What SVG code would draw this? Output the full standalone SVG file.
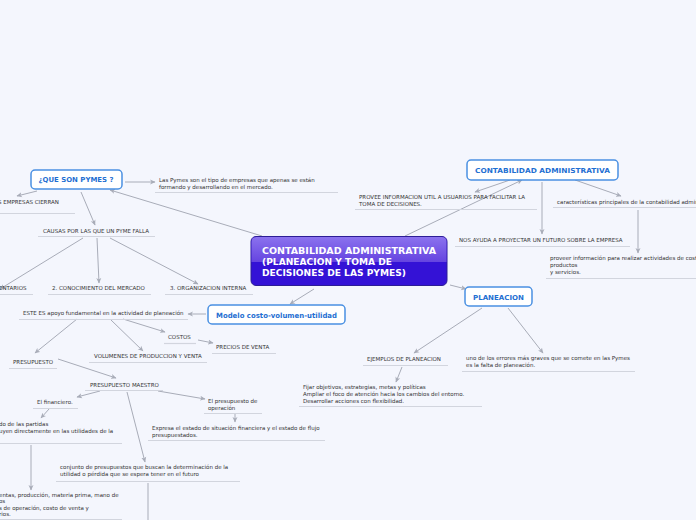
<svg xmlns="http://www.w3.org/2000/svg" width="696" height="520" viewBox="0 0 696 520">
<defs>
<linearGradient id="gTop" x1="0" y1="0" x2="0" y2="1">
<stop offset="0" stop-color="#8b72ee"/>
<stop offset="1" stop-color="#6544e0"/>
</linearGradient>
<marker id="ah" markerWidth="6" markerHeight="6" refX="5" refY="3" orient="auto" markerUnits="userSpaceOnUse">
<path d="M0,0.5 L5.5,3 L0,5.5 L1.5,3 Z" fill="#a8acb8"/>
</marker>
<style>
.t{font-family:"DejaVu Sans","Verdana",sans-serif;font-size:5.5px;fill:#333}
.ul{stroke:#d2d5de;stroke-width:1.2}
.c{stroke:#a8acb8;stroke-width:1;fill:none;marker-end:url(#ah)}
.cn{stroke:#a8acb8;stroke-width:1;fill:none}
.bx{fill:#fff;stroke:#4a90e2;stroke-width:1.5}
.bt{font-family:"DejaVu Sans","Verdana",sans-serif;font-weight:bold;font-size:6.8px;fill:#1f6fd2;text-anchor:middle}
.ct{font-family:"DejaVu Sans","Verdana",sans-serif;font-weight:bold;font-size:9.2px;fill:#fff}
</style>
</defs>
<rect width="696" height="520" fill="#f4f6fd"/>

<g id="connectors">
<path class="c" d="M262,236 L110,190"/>
<path class="c" d="M125,182 L155,182"/>
<path class="c" d="M37,191 L17,196"/>
<path class="c" d="M81,192 L95,225"/>
<path class="c" d="M83,238 L0,289"/>
<path class="c" d="M97,238 L99,283"/>
<path class="c" d="M110,238 L198,284"/>
<path class="c" d="M405,236 L522,180"/>
<path class="c" d="M510,180 L475,192"/>
<path class="c" d="M542,182 L542,234"/>
<path class="c" d="M575,180 L621,196"/>
<path class="c" d="M638,210 L638,253"/>
<path class="c" d="M450,285 L466,289"/>
<path class="c" d="M482,308 L414,353"/>
<path class="c" d="M508,308 L543,353"/>
<path class="c" d="M402,367 L396,382"/>
<path class="c" d="M314,289 L290,304"/>
<path class="c" d="M206,314 L188,314"/>
<path class="c" d="M77,319 L35,353"/>
<path class="c" d="M111,320 L143,351"/>
<path class="c" d="M123,319 L165,332"/>
<path class="c" d="M198,340 L213,343"/>
<path class="c" d="M58,359 L116,378"/>
<path class="c" d="M100,391 L77,397"/>
<path class="c" d="M158,391 L205,399"/>
<path class="c" d="M235,414 L235,422"/>
<path class="c" d="M127,392 L145,462"/>
<path class="c" d="M49,409 L41,418"/>
<path class="c" d="M31,445 L31,490"/>
<path class="cn" d="M148,483 L148,520"/>
</g>

<g id="central">
<rect x="251" y="236.5" width="196" height="49" rx="5" fill="#3412d6" stroke="#2d1d96" stroke-width="1"/>
<path d="M251.5,262 L251.5,242 Q251.5,237 256.5,237 L441.5,237 Q446.5,237 446.5,242 L446.5,262 Z" fill="url(#gTop)"/>
<text class="ct" x="262" y="254" textLength="174" lengthAdjust="spacingAndGlyphs">CONTABILIDAD ADMINISTRATIVA</text>
<text class="ct" x="262" y="265" textLength="130" lengthAdjust="spacingAndGlyphs">(PLANEACION Y TOMA DE</text>
<text class="ct" x="262" y="276" textLength="144" lengthAdjust="spacingAndGlyphs">DECISIONES DE LAS PYMES)</text>
</g>

<g id="que-son-pymes">
<rect class="bx" x="31" y="170" width="91" height="19" rx="4"/>
<text class="bt" x="76" y="182" textLength="75" lengthAdjust="spacingAndGlyphs">¿QUE SON PYMES ?</text>
</g>

<g id="pymes-def">
<text class="t" x="159" y="182">Las Pymes son el tipo de empresas que apenas se están</text>
<text class="t" x="159" y="189">formando y desarrollando en el mercado.</text>
<line class="ul" x1="155" y1="192.5" x2="338" y2="192.5"/>
</g>

<g id="empresas-cierran">
<text class="t" x="-2" y="204">S EMPRESAS CIERRAN</text>
<line class="ul" x1="0" y1="213.5" x2="75" y2="213.5"/>
</g>

<g id="causas">
<text class="t" x="43" y="233">CAUSAS POR LAS QUE UN PYME FALLA</text>
<line class="ul" x1="38" y1="236.5" x2="155" y2="236.5"/>
</g>

<g id="causa1">
<text class="t" x="-1" y="290">ENTARIOS</text>
<line class="ul" x1="0" y1="294.5" x2="33" y2="294.5"/>
</g>

<g id="causa2">
<text class="t" x="52" y="290">2. CONOCIMIENTO DEL MERCADO</text>
<line class="ul" x1="48" y1="294.5" x2="151" y2="294.5"/>
</g>

<g id="causa3">
<text class="t" x="170" y="290">3. ORGANIZACION INTERNA</text>
<line class="ul" x1="165" y1="294.5" x2="253" y2="294.5"/>
</g>

<g id="contabilidad-administrativa">
<rect class="bx" x="467" y="160" width="151" height="20" rx="4"/>
<text class="bt" x="542.5" y="172.5" textLength="135" lengthAdjust="spacingAndGlyphs">CONTABILIDAD ADMINISTRATIVA</text>
</g>

<g id="provee">
<text class="t" x="359" y="199">PROVEE INFORMACION UTIL A USUARIOS PARA FACILITAR LA</text>
<text class="t" x="359" y="206">TOMA DE DECISIONES.</text>
<line class="ul" x1="355" y1="209.5" x2="537" y2="209.5"/>
</g>

<g id="nos-ayuda">
<text class="t" x="459" y="242">NOS AYUDA A PROYECTAR UN FUTURO SOBRE LA EMPRESA</text>
<line class="ul" x1="455" y1="246.5" x2="630" y2="246.5"/>
</g>

<g id="caracteristicas">
<text class="t" x="557" y="204">características principales de la contabilidad administrativa</text>
<line class="ul" x1="553" y1="207.5" x2="696" y2="207.5"/>
</g>

<g id="proveer">
<text class="t" x="550" y="260">proveer información para realizar actividades de costeo de</text>
<text class="t" x="550" y="267">productos</text>
<text class="t" x="550" y="274">y servicios.</text>
<line class="ul" x1="546" y1="278.5" x2="696" y2="278.5"/>
</g>

<g id="planeacion">
<rect class="bx" x="465" y="287" width="67" height="19" rx="4"/>
<text class="bt" x="498.5" y="299.5" textLength="51" lengthAdjust="spacingAndGlyphs">PLANEACION</text>
</g>

<g id="ejemplos">
<text class="t" x="367" y="361">EJEMPLOS DE PLANEACION</text>
<line class="ul" x1="363" y1="365.5" x2="448" y2="365.5"/>
</g>

<g id="errores">
<text class="t" x="466" y="360">uno de los errores más graves que se comete en las Pymes</text>
<text class="t" x="466" y="367">es la falta de planeación.</text>
<line class="ul" x1="462" y1="371.5" x2="635" y2="371.5"/>
</g>

<g id="fijar">
<text class="t" x="303" y="389">Fijar objetivos, estrategias, metas y políticas</text>
<text class="t" x="303" y="396">Ampliar el foco de atención hacia los cambios del entorno.</text>
<text class="t" x="303" y="403">Desarrollar acciones con flexibilidad.</text>
<line class="ul" x1="299" y1="406.5" x2="482" y2="406.5"/>
</g>

<g id="modelo">
<rect class="bx" x="208" y="305" width="137" height="19" rx="4"/>
<text class="bt" x="276.5" y="317.5" style="font-size:7.2px" textLength="121" lengthAdjust="spacingAndGlyphs">Modelo costo-volumen-utilidad</text>
</g>

<g id="este-es">
<text class="t" x="23" y="315">ESTE ES apoyo fundamental en la actividad de planeación</text>
<line class="ul" x1="19" y1="319.5" x2="188" y2="319.5"/>
</g>

<g id="costos">
<text class="t" x="168" y="339">COSTOS</text>
<line class="ul" x1="164" y1="343.5" x2="196" y2="343.5"/>
</g>

<g id="precios">
<text class="t" x="216" y="349">PRECIOS DE VENTA</text>
<line class="ul" x1="212" y1="353.5" x2="276" y2="353.5"/>
</g>

<g id="volumenes">
<text class="t" x="94" y="358">VOLUMENES DE PRODUCCION Y VENTA</text>
<line class="ul" x1="89" y1="362.5" x2="207" y2="362.5"/>
</g>

<g id="presupuesto">
<text class="t" x="13" y="364">PRESUPUESTO</text>
<line class="ul" x1="9" y1="368.5" x2="57" y2="368.5"/>
</g>

<g id="presupuesto-maestro">
<text class="t" x="90" y="387">PRESUPUESTO MAESTRO</text>
<line class="ul" x1="85" y1="390.5" x2="163" y2="390.5"/>
</g>

<g id="financiero">
<text class="t" x="37" y="404">El financiero.</text>
<line class="ul" x1="33" y1="408.5" x2="78" y2="408.5"/>
</g>

<g id="presupuesto-operacion">
<text class="t" x="208" y="403">El presupuesto de</text>
<text class="t" x="208" y="410">operación</text>
<line class="ul" x1="204" y1="413.5" x2="262" y2="413.5"/>
</g>

<g id="expresa">
<text class="t" x="152" y="430">Expresa el estado de situación financiera y el estado de flujo</text>
<text class="t" x="152" y="437">presupuestados.</text>
<line class="ul" x1="148" y1="440.5" x2="325" y2="440.5"/>
</g>

<g id="partidas">
<text class="t" x="-1" y="426">do de las partidas</text>
<text class="t" x="-1" y="433">uyen directamente en las utilidades de la</text>
<line class="ul" x1="0" y1="443.5" x2="122" y2="443.5"/>
</g>

<g id="conjunto">
<text class="t" x="60" y="469">conjunto de presupuestos que buscan la determinación de la</text>
<text class="t" x="60" y="476">utilidad o pérdida que se espera tener en el futuro</text>
<line class="ul" x1="56" y1="481.5" x2="240" y2="481.5"/>
</g>

<g id="ventas">
<text class="t" x="-1" y="497">entas, producción, materia prima, mano de</text>
<text class="t" x="-1" y="503">os</text>
<text class="t" x="-1" y="510">s de operación, costo de venta y</text>
<text class="t" x="-1" y="516">rios.</text>
<line class="ul" x1="0" y1="519.5" x2="122" y2="519.5"/>
</g>
</svg>
